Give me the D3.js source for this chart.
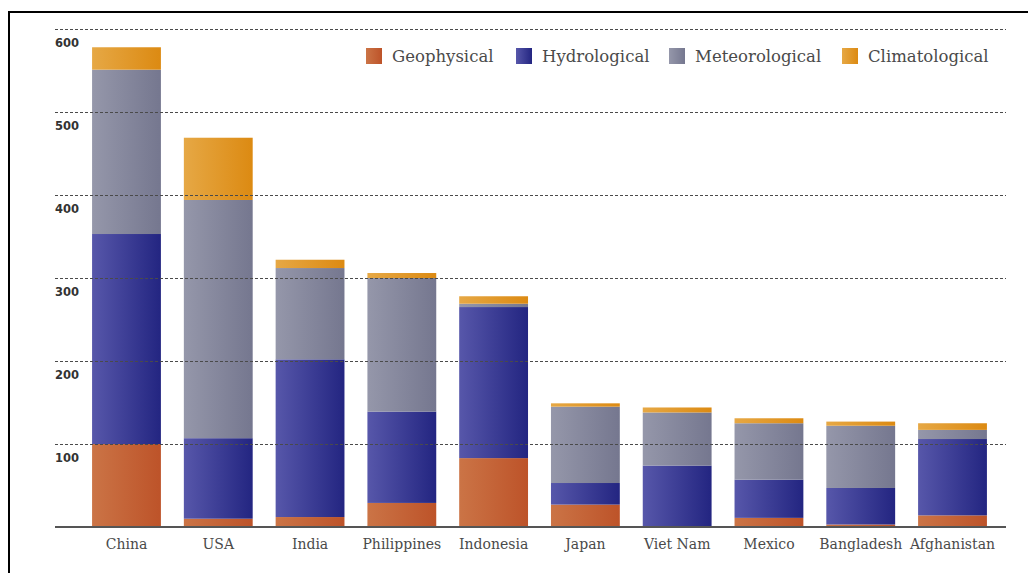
<!DOCTYPE html>
<html>
<head>
<meta charset="utf-8">
<script src="https://cdn.jsdelivr.net/npm/d3@7"></script>
<style>
  html, body { margin: 0; padding: 0; background: #fff; }
  svg { display: block; }
</style>
</head>
<body>
<svg id="chart" width="1028" height="573"></svg>
<script>
// Disaster counts per country, stacked by disaster type
const countries = ["China", "USA", "India", "Philippines", "Indonesia", "Japan", "Viet Nam", "Mexico", "Bangladesh", "Afghanistan"];
const seriesNames = ["Geophysical", "Hydrological", "Meteorological", "Climatological"];
const geophysical    = [100, 10, 12, 29, 83, 27, 1, 11, 3, 14];
const hydrological   = [253, 97, 190, 110, 182, 26, 73, 46, 44, 92];
const meteorological = [198, 287, 110, 161, 4, 92, 64, 68, 75, 11];
const climatological = [27, 75, 10, 6, 9, 4, 6, 6, 5, 8];
const yTicks = [100, 200, 300, 400, 500, 600];

// gradient stops: lighter on the left, deeper on the right
const palette = {
  Geophysical:    ["#cb7446", "#bd5329"],
  Hydrological:   ["#5757aa", "#232581"],
  Meteorological: ["#9597aa", "#75778f"],
  Climatological: ["#e6a845", "#dc8a12"]
};

const rows = countries.map((c, i) => ({
  country: c,
  Geophysical: geophysical[i],
  Hydrological: hydrological[i],
  Meteorological: meteorological[i],
  Climatological: climatological[i]
}));

const svg = d3.select("#chart");

const x = d3.scaleBand()
  .domain(countries)
  .range([80.6, 998.4])
  .paddingInner(0.25)
  .paddingOuter(0.125);

const y = d3.scaleLinear()
  .domain([0, 600])
  .range([527, 29]);

// gradient definitions
const defs = svg.append("defs");
seriesNames.forEach((name, i) => {
  const g = defs.append("linearGradient")
    .attr("id", "grad" + i)
    .attr("x1", "0%").attr("x2", "100%")
    .attr("y1", "0%").attr("y2", "0%");
  g.append("stop").attr("offset", "0%").attr("stop-color", palette[name][0]);
  g.append("stop").attr("offset", "100%").attr("stop-color", palette[name][1]);
});

// frame lines along the left and top
svg.append("line").attr("x1", 9).attr("x2", 9).attr("y1", 11).attr("y2", 573)
  .attr("stroke", "#000").attr("stroke-width", 2);
svg.append("line").attr("x1", 8).attr("x2", 1028).attr("y1", 12).attr("y2", 12)
  .attr("stroke", "#000").attr("stroke-width", 2);

// stacked bars
const stacked = d3.stack().keys(seriesNames)(rows);
svg.append("g").selectAll("g")
  .data(stacked)
  .join("g")
  .attr("fill", (d, i) => `url(#grad${i})`)
  .selectAll("rect")
  .data(d => d)
  .join("rect")
  .attr("x", d => x(d.data.country))
  .attr("width", x.bandwidth())
  .attr("y", d => y(d[1]))
  .attr("height", d => y(d[0]) - y(d[1]));

// dashed gridlines drawn over the bars, with labels beneath each line
const grid = svg.append("g");
grid.selectAll("line")
  .data(yTicks)
  .join("line")
  .attr("x1", 55).attr("x2", 1006)
  .attr("y1", d => Math.round(y(d)) + 0.5)
  .attr("y2", d => Math.round(y(d)) + 0.5)
  .attr("stroke", "#4a4a4a")
  .attr("stroke-width", 1)
  .attr("stroke-dasharray", "3,2");

grid.selectAll("text")
  .data(yTicks)
  .join("text")
  .attr("x", 55)
  .attr("y", d => y(d) + 18)
  .attr("font-family", "'DejaVu Sans', sans-serif")
  .attr("font-weight", "bold")
  .attr("font-size", 11.5)
  .attr("fill", "#333")
  .text(d => d);

// baseline
svg.append("line")
  .attr("x1", 55).attr("x2", 1006)
  .attr("y1", y(0)).attr("y2", y(0))
  .attr("stroke", "#555")
  .attr("stroke-width", 2);

// x-axis category labels
const xAxis = d3.axisBottom(x).tickSize(0).tickPadding(0);
const xg = svg.append("g")
  .attr("transform", `translate(0,${y(0) + 12})`)
  .call(xAxis);
xg.select(".domain").remove();
xg.selectAll("text")
  .attr("font-family", "'DejaVu Serif', serif")
  .attr("font-size", 14)
  .attr("fill", "#4a4a4a")
  .attr("dy", "0.71em");

// legend
const legendX = [366, 516, 669, 842];
const legend = svg.append("g");
seriesNames.forEach((name, i) => {
  const g = legend.append("g").attr("transform", `translate(${legendX[i]},48)`);
  g.append("rect").attr("width", 16).attr("height", 16)
    .attr("fill", `url(#grad${i})`);
  g.append("text")
    .attr("x", 26).attr("y", 8)
    .attr("dy", "0.35em")
    .attr("font-family", "'DejaVu Serif', serif")
    .attr("font-size", 16.5)
    .attr("fill", "#4a4a4a")
    .text(name);
});
</script>
</body>
</html>
